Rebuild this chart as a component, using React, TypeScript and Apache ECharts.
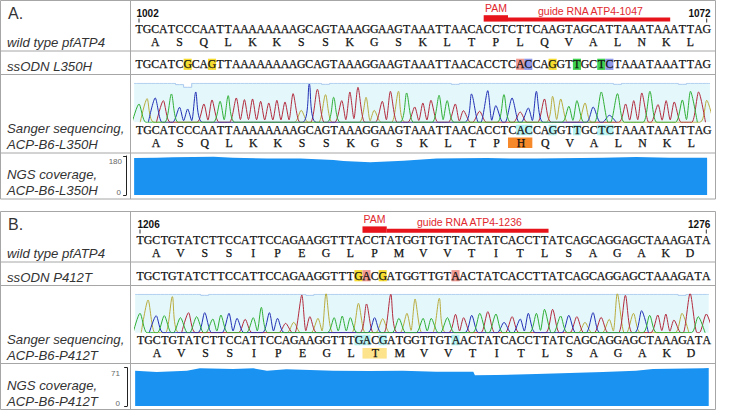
import React, { useEffect, useRef } from "react";
import * as echarts from "echarts";

// ---------- data ----------
const wildA = "TGCATCCCAATTAAAAAAAAGCAGTAAAGGAAGTAAATTAACACCTCTTCAAGTAGCATTAAATAAATTAG";
const ssodnA = "TGCATCGCAGTTAAAAAAAAGCAGTAAAGGAAGTAAATTAACACCTCACCAGGTTGCTCTAAATAAATTAG";
const sangerA = "TGCATCCCAATTAAAAAAAAGCAGTAAAGGAAGTAAATTAACACCTCACCAGGTTGCTCTAAATAAATTAG";
const aaWildA = ["A","S","Q","L","K","K","S","S","K","G","S","K","L","T","P","L","Q","V","A","L","N","K","L"];
const aaEditA = ["A","S","Q","L","K","K","S","S","K","G","S","K","L","T","P","H","Q","V","A","L","N","K","L"];
const peaksA = [55,71,73,65,85,45,40,91,55,67,63,80,73,68,70,63,58,66,61,86,36,115,99,83,75,65,91,105,75,36,63,93,93,88,46,58,66,81,65,55,35,85,33,95,50,83,73,31,43,93,70,78,70,48,65,58,46,91,21,86,55,65,88,93,53,65,61,67,93,91,66];
const coverPosA = [-0.6,2.2,4.2,9.2,11.6,15.7,19.9,24,25.2,28.5,32.6,36.7,42.9,45.7,49,57.2,61.3,65.4,70.05];
const coverValA = [171,172,174,177,172,168,168,162,157,151,158,168,171,168,169,172,175,172,172];
const dipsA = [[5,4],[6,12],[23,3],[39,3],[59,3],[67,3]];
const markA: [number, string][] = [[6,"y"],[9,"y"],[47,"s"],[48,"p"],[51,"y"],[54,"g"],[57,"g"],[58,"p"]];
const sangerMarkA = [47,48,51,54,57,58];

const wildB = "TGCTGTATCTTCCATTCCAGAAGGTTTACCTATGGTTGTTACTATCACCTTATCAGCAGGAGCTAAAGATA";
const ssodnB = "TGCTGTATCTTCCATTCCAGAAGGTTTGACGATGGTTGTAACTATCACCTTATCAGCAGGAGCTAAAGATA";
const sangerB = "TGCTGTATCTTCCATTCCAGAAGGTTTGACGATGGTTGTAACTATCACCTTATCAGCAGGAGCTAAAGATA";
const aaWildB = ["A","V","S","S","I","P","E","G","L","P","M","V","V","T","I","T","L","S","A","G","A","K","D"];
const aaEditB = ["A","V","S","S","I","P","E","G","L","T","M","V","V","T","I","T","L","S","A","G","A","K","D"];
const peaksB = [58,98,51,51,108,45,60,48,60,41,53,58,43,40,45,76,60,43,28,31,113,48,43,118,45,50,45,88,86,45,42,115,43,58,101,43,43,103,45,55,45,52,58,63,56,31,48,41,58,58,70,70,50,52,48,31,60,46,40,118,112,58,66,52,53,56,38,58,118,48,56];
const coverPosB = [-0.6,2.07,5.8,7.4,11.5,14,15.7,18.1,23.9,28.4,32.5,36.6,41.2,41.4,44,49,53.1,57.2,61.3,63.4,69.6,70.3];
const coverValB = [65.4,63,65.4,69.8,68.5,69.8,65.4,67.9,65.4,64.8,65.4,63.6,63.6,56.8,57.4,59.3,61.1,63,65.4,68.5,69.8,70.4];
const dipsB = [[8,3],[21,3],[67,3]];
const markB: [number, string][] = [[27,"y"],[28,"s"],[30,"y"],[39,"s"]];
const sangerMarkB = [27,28,30,39];

const seqTicksA = ["1002","1072"];
const seqTicksB = ["1206","1276"];
const covTicksA = ["180","0"];
const covTicksB = ["71","0"];

const C = {
  frame: "#a6a6a6", ink: "#111111", label: "#333333", red: "#e8141c", redText: "#e0282e",
  cover: "#1a92f2", band: "#e4f8fc", qual: "#a9c8ee",
  A: "#b22a3c", C: "#2230b4", G: "#b8ab3e", T: "#2fae34",
  y: "#f7dc30", s: "#f09a92", p: "#8f98e8", g: "#3fd14f", cyan: "#b5f2f2", orange: "#f68a2a", pale: "#fde38c",
} as Record<string, string>;

const SEQ_FONT = '"Liberation Serif"';
const SANS = '"Liberation Sans"';

function textSeries(xy: number, rows: { idx: number; y: number; t: string }[]) {
  return {
    type: "custom", xAxisIndex: xy, yAxisIndex: xy, silent: true, clip: false, z: 5,
    data: rows.map((r) => [r.idx, r.y, r.t]),
    renderItem: (_p: any, api: any) => {
      const pt = api.coord([api.value(0), api.value(1)]);
      return {
        type: "text",
        style: {
          text: String(api.value(2)), x: pt[0], y: pt[1], align: "center", verticalAlign: "middle",
          fontFamily: SEQ_FONT, fontSize: 11.8, fill: C.ink, stroke: C.ink, lineWidth: 0.25,
        },
      };
    },
  };
}

function rectSeries(xy: number, rows: { x0: number; x1: number; y0: number; y1: number; c: string }[]) {
  return {
    type: "custom", xAxisIndex: xy, yAxisIndex: xy, silent: true, clip: false, z: 3,
    data: rows.map((r) => [r.x0, r.x1, r.y0, r.y1, r.c]),
    renderItem: (_p: any, api: any) => {
      const a = api.coord([api.value(0), api.value(2)]);
      const b = api.coord([api.value(1), api.value(3)]);
      return {
        type: "rect",
        shape: { x: a[0], y: a[1], width: b[0] - a[0], height: b[1] - a[1] },
        style: { fill: api.value(4) },
      };
    },
  };
}

function channel(seq: string, peaks: number[], base: string) {
  const out: [number, number][] = [];
  for (let i = 0; i < seq.length; i++) {
    if (seq[i] !== base) continue;
    const prevSame = i > 0 && seq[i - 1] === base;
    if (!prevSame) out.push([i - 0.85, 0]);
    out.push([i, peaks[i]]);
    const nextSame = i < seq.length - 1 && seq[i + 1] === base;
    if (nextSame) out.push([i + 0.5, Math.min(peaks[i], peaks[i + 1]) * 0.12]);
    else out.push([i + 0.85, 0]);
  }
  return out;
}

function panel(cfg: any) {
  const { base, left, step, x1, wild, ssodn, sanger, aaW, aaE, peaks, chromTop, chromH, chromMax, covTop, covH, covMax,
    covPos, covVal, dips, marks, sMarks, rows, aaMark, aaColor, pam, guide, ticks, barY } = cfg;
  const xMin = -0.6;
  const gridLeft = left + xMin * step;
  const gridW = (x1 - xMin) * step;
  const grids = [
    { left: gridLeft, width: gridW, top: 0, height: 411 },
    { left: gridLeft, width: gridW, top: chromTop, height: chromH },
    { left: gridLeft, width: gridW, top: covTop, height: covH },
  ];
  const xAxes = [0, 1, 2].map((g) => ({ type: "value", gridIndex: base + g, min: xMin, max: x1, show: false }));
  const yAxes = [
    { type: "value", gridIndex: base, min: 0, max: 411, inverse: true, show: false },
    { type: "value", gridIndex: base + 1, min: 0, max: chromMax, show: false },
    {
      type: "value", gridIndex: base + 2, min: 0, max: covMax, interval: covMax, offset: 8, position: "left",
      axisLine: { show: true, onZero: false, lineStyle: { color: "#222", width: 1 } },
      axisTick: { show: true, length: 3, lineStyle: { color: "#222" } },
      axisLabel: { show: false }, splitLine: { show: false },
    },
  ];
  const aaIdx = (k: number) => 2 + k * 3;
  const texts = [
    ...wild.split("").map((t: string, i: number) => ({ idx: i, y: rows.wild, t })),
    ...ssodn.split("").map((t: string, i: number) => ({ idx: i, y: rows.ss, t })),
    ...sanger.split("").map((t: string, i: number) => ({ idx: i + 0.06, y: rows.sanger, t })),
    ...aaW.map((t: string, k: number) => ({ idx: aaIdx(k), y: rows.aa1, t })),
    ...aaE.map((t: string, k: number) => ({ idx: aaIdx(k) + 0.1, y: rows.aa2, t })),
  ];
  const h = (y: number, half: number) => ({ y0: y - half, y1: y + half });
  const rects = [
    ...marks.map(([i, c]: [number, string]) => ({ x0: i - 0.5, x1: i + 0.5, ...h(rows.ss, 5.6), c: C[c] })),
    ...sMarks.map((i: number) => ({ x0: i - 0.5, x1: i + 0.5, ...h(rows.sanger, 5.3), c: C.cyan })),
    { x0: aaMark - 1.5, x1: aaMark + 1.5, ...h(rows.aa2, 5.3), c: aaColor },
    { x0: pam[0], x1: pam[1], y0: barY, y1: barY + 6.4, c: C.red },
    { x0: guide[0], x1: guide[1], y0: barY + 2.4, y1: barY + 6.4, c: C.red },
  ];
  const tickLabels = [
    { label: ticks[0], x: 0, align: "left", dx: -2.5 },
    { label: ticks[1], x: 70, align: "right", dx: 4 },
  ];
  const dipMap = new Map(dips.map((d: number[]) => [d[0], d[1]]));
  const qual: [number, number][] = [[xMin, chromMax]];
  wild.split("").forEach((_: string, i: number) => qual.push([i, chromMax - ((dipMap.get(i) as number) || 0)]));
  qual.push([x1, chromMax]);
  const series: any[] = [
    rectSeries(base, rects),
    textSeries(base, texts),
    {
      type: "custom", xAxisIndex: base, yAxisIndex: base, silent: true, clip: false, z: 5,
      data: tickLabels.map((t) => [t.x, rows.num, t.label, t.align, t.dx]),
      renderItem: (_p: any, api: any) => {
        const pt = api.coord([api.value(0), api.value(1)]);
        return {
          type: "group",
          children: [
            {
              type: "text",
              style: {
                text: String(api.value(2)), x: pt[0] + api.value(4), y: pt[1], align: api.value(3), verticalAlign: "middle",
                fontFamily: SANS, fontWeight: "bold", fontSize: 10, fill: "#111",
              },
            },
            { type: "rect", shape: { x: pt[0] - 0.5, y: pt[1] + 5.5, width: 1, height: 4 }, style: { fill: "#333" } },
          ],
        };
      },
    },
    {
      type: "line", xAxisIndex: base + 1, yAxisIndex: base + 1, step: "middle", data: qual, showSymbol: false, silent: true,
      lineStyle: { color: C.qual, width: 1 }, areaStyle: { color: C.band, opacity: 1 }, z: 1,
    },
    ...["G", "A", "C", "T"].map((b) => ({
      type: "line", xAxisIndex: base + 1, yAxisIndex: base + 1, data: channel(sanger, peaks, b), showSymbol: false, silent: true,
      smooth: 0.25, lineStyle: { color: C[b], width: 1 }, z: 2,
    })),
    {
      type: "line", xAxisIndex: base + 2, yAxisIndex: base + 2, data: covPos.map((p: number, i: number) => [p, covVal[i]]),
      showSymbol: false, silent: true, lineStyle: { width: 0 }, areaStyle: { color: C.cover, opacity: 1 }, z: 2,
    },
  ];
  return { grids, xAxes, yAxes, series };
}

const pA = panel({
  base: 0, left: 139, step: 8.11, x1: 70.4, wild: wildA, ssodn: ssodnA, sanger: sangerA, aaW: aaWildA, aaE: aaEditA, peaks: peaksA,
  chromTop: 83.3, chromH: 39, chromMax: 117, covTop: 156, covH: 39, covMax: 180, covPos: coverPosA, covVal: coverValA,
  dips: dipsA, marks: markA, sMarks: sangerMarkA, aaMark: 47, aaColor: C.orange, pam: [42.5, 45.5], guide: [45.5, 65.5],
  ticks: seqTicksA, barY: 15.2,
  rows: { num: 13, wild: 29, aa1: 41.8, ss: 64.3, sanger: 130, aa2: 142.7 },
});
const pB = panel({
  base: 3, left: 140, step: 8.09, x1: 70.3, wild: wildB, ssodn: ssodnB, sanger: sangerB, aaW: aaWildB, aaE: aaEditB, peaks: peaksB,
  chromTop: 294.3, chromH: 38.4, chromMax: 115, covTop: 367.7, covH: 38.3, covMax: 71, covPos: coverPosB, covVal: coverValB,
  dips: dipsB, marks: markB, sMarks: sangerMarkB, aaMark: 29, aaColor: C.pale, pam: [27.5, 30.5], guide: [30.5, 50.5],
  ticks: seqTicksB, barY: 226.4,
  rows: { num: 224, wild: 240, aa1: 253.3, ss: 275.7, sanger: 340, aa2: 353.3 },
});

function frame(ys: number[]) {
  const stroke = { stroke: C.frame, lineWidth: 1 };
  const els: any[] = ys.map((y) => ({ type: "line", shape: { x1: 0.5, y1: y, x2: 715.5, y2: y }, style: stroke, silent: true }));
  [0.5, 130.5, 715.5].forEach((x) =>
    els.push({ type: "line", shape: { x1: x, y1: ys[0], x2: x, y2: ys[ys.length - 1] }, style: stroke, silent: true })
  );
  return els;
}

const left = (text: string, y: number, opt: any = {}) => ({
  type: "text", x: opt.x ?? 7, y, silent: true,
  style: {
    text, fontFamily: SANS, fontStyle: opt.style ?? "italic", fontSize: opt.size ?? 13.2, fill: opt.fill ?? C.label,
    align: opt.align ?? "left", verticalAlign: "middle",
  },
});

const graphics = [
  ...frame([0.5, 51, 74.5, 153, 199]),
  ...frame([211.5, 262, 285.5, 363.5, 409.5]),
  left("A.", 13, { x: 8, style: "normal", size: 16 }),
  left("wild type pfATP4", 42.3),
  left("ssODN L350H", 66),
  left("Sanger sequencing,", 128),
  left("ACP-B6-L350H", 144.3),
  left("NGS coverage,", 174.3),
  left("ACP-B6-L350H", 190),
  left(covTicksA[0], 161.3, { x: 122, align: "right", style: "normal", size: 8, fill: "#666" }),
  left(covTicksA[1], 192.3, { x: 121, align: "right", style: "normal", size: 8, fill: "#666" }),
  left("PAM", 8.3, { x: 485, style: "normal", size: 10.5, fill: C.redText }),
  left("guide RNA ATP4-1047", 11, { x: 538, style: "normal", size: 10.5, fill: C.redText }),
  left("B.", 224, { x: 8, style: "normal", size: 16 }),
  left("wild type pfATP4", 253.3),
  left("ssODN P412T", 277.3),
  left("Sanger sequencing,", 339.3),
  left("ACP-B6-P412T", 355),
  left("NGS coverage,", 385),
  left("ACP-B6-P412T", 401),
  left(covTicksB[0], 373, { x: 120, align: "right", style: "normal", size: 8, fill: "#666" }),
  left(covTicksB[1], 403, { x: 120, align: "right", style: "normal", size: 8, fill: "#666" }),
  left("PAM", 219, { x: 363.5, style: "normal", size: 10.5, fill: C.redText }),
  left("guide RNA ATP4-1236", 222.3, { x: 417, style: "normal", size: 10.5, fill: C.redText }),
];

export default function App() {
  const ref = useRef<HTMLDivElement>(null);
  useEffect(() => {
    const chart = echarts.init(ref.current!, undefined, { renderer: "svg" });
    chart.setOption({
      animation: false,
      backgroundColor: "#ffffff",
      grid: [...pA.grids, ...pB.grids],
      xAxis: [...pA.xAxes, ...pB.xAxes],
      yAxis: [...pA.yAxes, ...pB.yAxes],
      series: [...pA.series, ...pB.series],
      graphic: graphics,
    });
    return () => chart.dispose();
  }, []);
  return <div ref={ref} style={{ position: "absolute", left: 0, top: 0, width: 740, height: 411 }} />;
}
